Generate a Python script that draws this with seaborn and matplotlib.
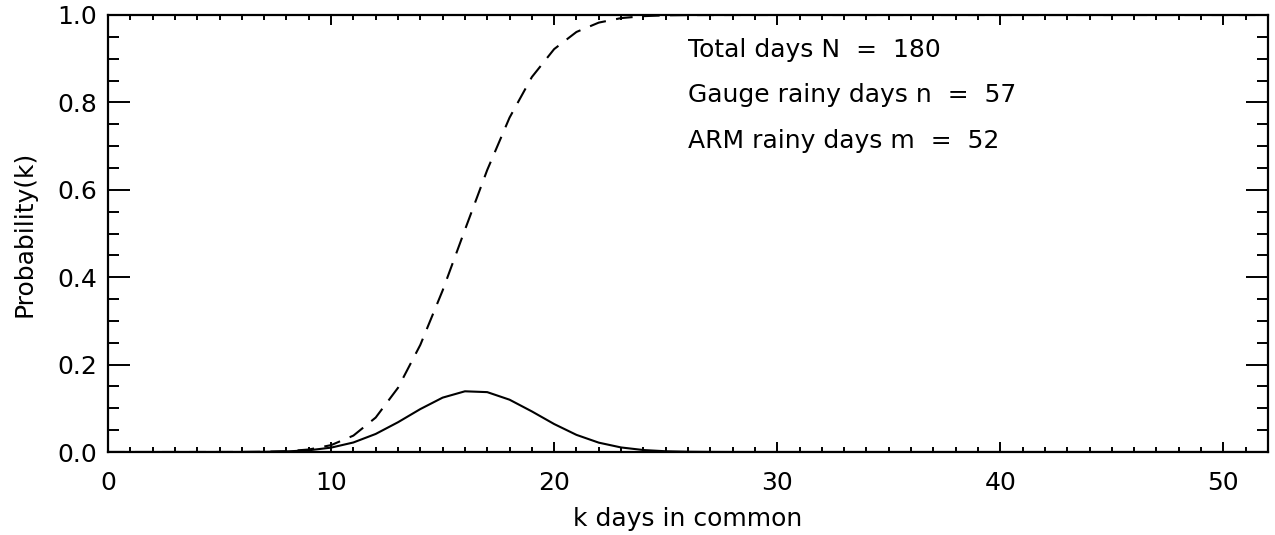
import matplotlib
matplotlib.use("Agg")
import matplotlib.pyplot as plt
from matplotlib.ticker import MultipleLocator, FormatStrFormatter
import seaborn as sns
import pandas as pd

k_days = list(range(0, 53))
prob_pmf = [0.0, 0.0, 0.0, 0.0, 0.0, 0.00002, 0.00009, 0.00037, 0.0013, 0.0039,
            0.0100, 0.0218, 0.0413, 0.0681, 0.0982, 0.1244, 0.1389, 0.1370, 0.1197, 0.0929,
            0.0640, 0.0392, 0.0214, 0.0104, 0.0045, 0.0017, 0.0006, 0.0002, 0.00005, 0.00001,
            0.0, 0.0, 0.0, 0.0, 0.0, 0.0, 0.0, 0.0, 0.0, 0.0,
            0.0, 0.0, 0.0, 0.0, 0.0, 0.0, 0.0, 0.0, 0.0, 0.0,
            0.0, 0.0, 0.0]
prob_cdf = [0.0, 0.0, 0.0, 0.0, 0.0, 0.00002, 0.0001, 0.0005, 0.0018, 0.0057,
            0.0157, 0.0375, 0.0788, 0.1469, 0.2451, 0.3695, 0.5084, 0.6454, 0.7651, 0.8580,
            0.9220, 0.9612, 0.9826, 0.9929, 0.9974, 0.9992, 0.9998, 0.9999, 1.0, 1.0,
            1.0, 1.0, 1.0, 1.0, 1.0, 1.0, 1.0, 1.0, 1.0, 1.0,
            1.0, 1.0, 1.0, 1.0, 1.0, 1.0, 1.0, 1.0, 1.0, 1.0,
            1.0, 1.0, 1.0]
info_lines = ["Total days N  =  180", "Gauge rainy days n  =  57", "ARM rainy days m  =  52"]
x_label = "k days in common"
y_label = "Probability(k)"

df = pd.DataFrame({"k": k_days, "pmf": prob_pmf, "cdf": prob_cdf})

sns.set_style("ticks")
plt.rcParams["font.family"] = ["DejaVu Sans"]
plt.rcParams["font.size"] = 18
plt.rcParams["text.color"] = "black"
plt.rcParams["axes.labelcolor"] = "black"

fig = plt.figure(figsize=(12.75, 5.35), dpi=100)
ax = fig.add_axes([108 / 1275, 1 - 452 / 535, 1160 / 1275, 437 / 535])

sns.lineplot(data=df, x="k", y="pmf", ax=ax, color="black", linewidth=1.5)
sns.lineplot(data=df, x="k", y="cdf", ax=ax, color="black", linewidth=1.5,
             linestyle=(0, (8, 5)))

ax.set_xlim(0, 52)
ax.set_ylim(0, 1.0)
ax.xaxis.set_major_locator(MultipleLocator(10))
ax.xaxis.set_minor_locator(MultipleLocator(1))
ax.yaxis.set_major_locator(MultipleLocator(0.2))
ax.yaxis.set_minor_locator(MultipleLocator(0.05))
ax.yaxis.set_major_formatter(FormatStrFormatter("%.1f"))

for s in ax.spines.values():
    s.set_linewidth(1.6)
    s.set_color("black")
    s.set_visible(True)

ax.tick_params(axis="both", which="both", direction="in", top=True, right=True,
               color="black", width=1.4, labelsize=18, labelcolor="black")
ax.tick_params(axis="x", which="major", length=7, pad=14)
ax.tick_params(axis="x", which="minor", length=3.5)
ax.tick_params(axis="y", which="major", length=16, pad=8)
ax.tick_params(axis="y", which="minor", length=8)

ax.set_xlabel(x_label, fontsize=18, labelpad=8)
ax.set_ylabel(y_label, fontsize=18, labelpad=15)

for i, t in enumerate(info_lines):
    ax.text(26, 0.92 - i * 0.104, t, fontsize=18, va="center", ha="left", color="black")

fig.savefig("out.png", dpi=100)
